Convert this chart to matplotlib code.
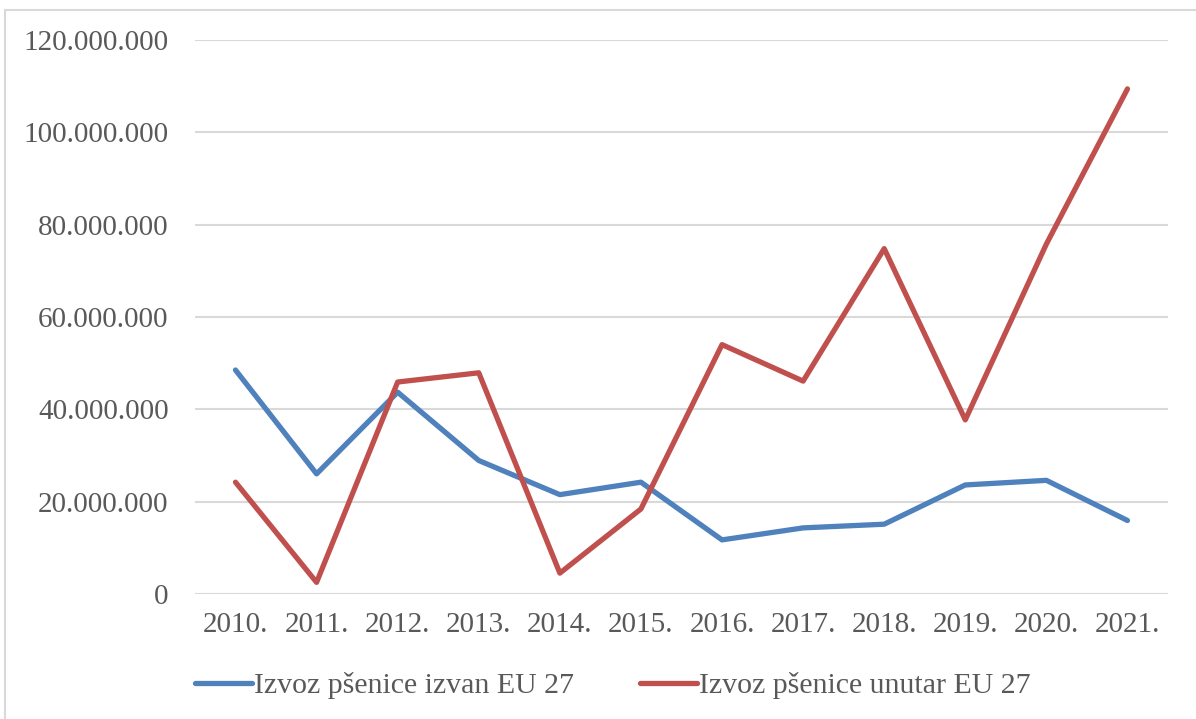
import matplotlib
matplotlib.use("Agg")
import matplotlib.pyplot as plt
from matplotlib.patches import Rectangle
from matplotlib.ticker import FuncFormatter

years = ['2010.', '2011.', '2012.', '2013.', '2014.', '2015.',
         '2016.', '2017.', '2018.', '2019.', '2020.', '2021.']
izvan_eu = [48.5e6, 26.0e6, 43.7e6, 28.9e6, 21.5e6, 24.2e6,
            11.7e6, 14.3e6, 15.1e6, 23.6e6, 24.6e6, 15.9e6]
unutar_eu = [24.2e6, 2.5e6, 45.9e6, 47.9e6, 4.5e6, 18.4e6,
             54.0e6, 46.1e6, 74.8e6, 37.7e6, 75.8e6, 109.4e6]
labels = ['Izvoz pšenice izvan EU 27', 'Izvoz pšenice unutar EU 27']

plt.rc('font', family='Liberation Serif')
text_col = '#595959'

fig = plt.figure(figsize=(11.96, 7.19), dpi=100)
ax = fig.add_axes([0.163, 0.174, 0.8136, 0.7704])

x = range(len(years))
ax.plot(x, izvan_eu, color='#4F81BD', lw=3.8, solid_capstyle='round',
        solid_joinstyle='round', label=labels[0])
ax.plot(x, unutar_eu, color='#C0504D', lw=3.8, solid_capstyle='round',
        solid_joinstyle='round', label=labels[1])

ax.set_xlim(-0.5, len(years) - 0.5)
ax.set_ylim(0, 120e6)
ax.set_yticks(range(0, 120000001, 20000000))
ax.yaxis.set_major_formatter(FuncFormatter(lambda v, p: f'{int(v):,}'.replace(',', '.')))
ax.set_xticks(list(x))
ax.set_xticklabels(years)
ax.grid(axis='y', color='#D9D9D9', lw=1.5)
ax.set_axisbelow(True)
for s in ax.spines.values():
    s.set_visible(False)
ax.tick_params(length=0, labelsize=21, colors=text_col)
ax.tick_params(axis='y', pad=19)
ax.tick_params(axis='x', pad=13)

leg = fig.legend(loc='center left', bbox_to_anchor=(0.163, 0.046), ncol=2,
                 frameon=False, fontsize=21.5, handlelength=1.9, handletextpad=0.08,
                 columnspacing=2.2, borderpad=0, borderaxespad=0,
                 labelcolor=text_col)

fig.patches.append(Rectangle((5 / 1196, -0.1), 1.2, 1 - 10 / 719 + 0.1,
                             transform=fig.transFigure, fill=False,
                             edgecolor='#D9D9D9', lw=1.5))

fig.savefig('out.png', dpi=100)
